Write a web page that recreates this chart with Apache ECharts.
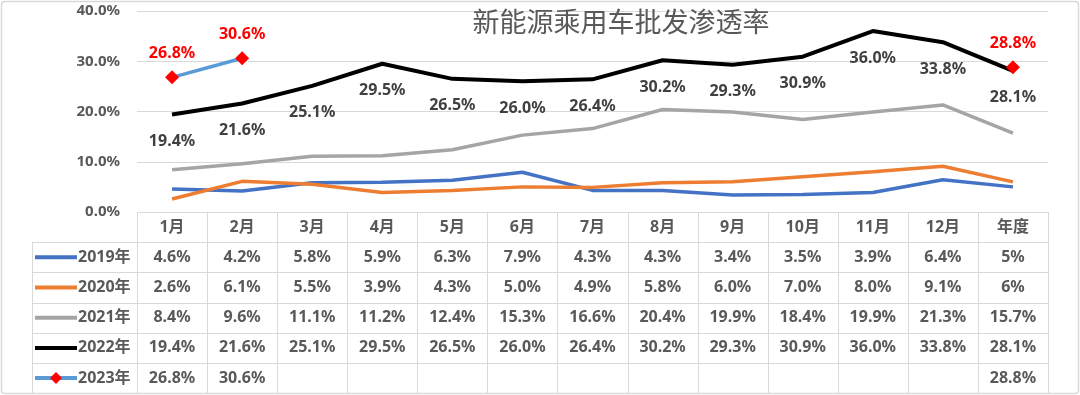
<!DOCTYPE html>
<html><head><meta charset="utf-8">
<script src="https://cdn.jsdelivr.net/npm/echarts@6/dist/echarts.min.js"></script>
<style>html,body{margin:0;padding:0;background:#fff}#c{width:1080px;height:395px}</style>
</head><body><div id="c"></div>
<script>
const titleText = '新能源乘用车批发渗透率';
const categories = ['1月','2月','3月','4月','5月','6月','7月','8月','9月','10月','11月','12月','年度'];
const seriesNames = ['2019年','2020年','2021年','2022年','2023年'];
const s2019 = [4.6,4.2,5.8,5.9,6.3,7.9,4.3,4.3,3.4,3.5,3.9,6.4,5];
const s2020 = [2.6,6.1,5.5,3.9,4.3,5.0,4.9,5.8,6.0,7.0,8.0,9.1,6];
const s2021 = [8.4,9.6,11.1,11.2,12.4,15.3,16.6,20.4,19.9,18.4,19.9,21.3,15.7];
const s2022 = [19.4,21.6,25.1,29.5,26.5,26.0,26.4,30.2,29.3,30.9,36.0,33.8,28.1];
const s2023 = [26.8,30.6,null,null,null,null,null,null,null,null,null,null,28.8];
const yMin = 0, yMax = 40, yStep = 10;

const FONT = '"Noto Sans", "Noto Sans CJK SC", sans-serif';
const TXT = '#595959';
const colors = ['#4472C4','#ED7D31','#A5A5A5','#000000','#5B9BD5'];
const allData = [s2019,s2020,s2021,s2022,s2023];

const chart = echarts.init(document.getElementById('c'));
const fmt = (v, i) => (v == null ? '' : (i === categories.length - 1 && Number.isInteger(v)) ? v + '%' : v.toFixed(1) + '%');

const series = allData.map((d, k) => {
  const s = {
    name: seriesNames[k], type: 'line', data: d,
    symbol: 'none', lineStyle: {color: colors[k], width: k === 3 ? 4 : 3.5},
    itemStyle: {color: colors[k]}, z: 2 + k, animation: false
  };
  if (k === 3) {
    s.symbol = 'circle'; s.symbolSize = 0.01; s.showSymbol = true;
    s.label = {show: true, position: 'bottom', distance: 19, color: '#404040',
      fontFamily: FONT, fontWeight: 'bold', fontSize: 16, formatter: p => fmt(p.value, p.dataIndex)};
  }
  if (k === 4) {
    s.symbol = 'diamond'; s.symbolSize = 14; s.showSymbol = true;
    s.itemStyle = {color: '#FF0000'};
    s.label = {show: true, position: 'top', distance: 9, color: '#FF0000',
      fontFamily: FONT, fontWeight: 'bold', fontSize: 16, formatter: p => fmt(p.value, p.dataIndex)};
  }
  return s;
});

chart.setOption({
  animation: false,
  grid: {left: 137, right: 32, top: 11, bottom: 183},
  xAxis: {type: 'category', data: categories, boundaryGap: true,
    axisLine: {show: false}, axisTick: {show: false}, axisLabel: {show: false}},
  yAxis: {type: 'value', min: yMin, max: yMax, interval: yStep,
    axisLine: {show: false}, axisTick: {show: false},
    splitLine: {lineStyle: {color: '#D9D9D9', width: 1}},
    axisLabel: {margin: 17, color: TXT, fontFamily: FONT, fontWeight: 'bold', fontSize: 15,
      formatter: v => v.toFixed(1) + '%'}},
  series: series
});

const gLeft = 137, gRight = 1080 - 32, tableTop = 212, rowH = 30.2, legendLeft = 32;
const nCol = categories.length;
const colW = (gRight - gLeft) / nCol;
const g = [];
const lineColor = '#D9D9D9';
const crisp = v => Math.round(v) + 0.5;
g.push({type: 'rect', shape: {x: 1.5, y: 1.5, width: 1077, height: 392, r: 3}, style: {fill: null, stroke: '#D9D9D9', lineWidth: 1.5}, silent: true});
g.push({type: 'text', x: 621, y: 24, style: {text: titleText, fill: TXT, font: '27px ' + FONT, textAlign: 'center', textVerticalAlign: 'middle'}});
const nRows = allData.length;
for (let r = 0; r <= nRows + 1; r++) {
  const y = crisp(tableTop + r * rowH);
  const x1 = r <= 0 ? gLeft : legendLeft;
  g.push({type: 'line', shape: {x1: x1, y1: y, x2: gRight, y2: y}, style: {stroke: lineColor, lineWidth: 1}, silent: true});
}
g.push({type: 'line', shape: {x1: crisp(legendLeft), y1: tableTop + rowH, x2: crisp(legendLeft), y2: tableTop + (nRows + 1) * rowH}, style: {stroke: lineColor, lineWidth: 1}});
for (let c = 0; c <= nCol; c++) {
  const x = crisp(gLeft + c * colW);
  g.push({type: 'line', shape: {x1: x, y1: tableTop, x2: x, y2: tableTop + (nRows + 1) * rowH}, style: {stroke: lineColor, lineWidth: 1}});
}
categories.forEach((cat, i) => {
  const cx = chart.convertToPixel({xAxisIndex: 0}, i);
  g.push({type: 'text', x: cx, y: tableTop + rowH / 2, style: {text: cat, fill: TXT, font: 'bold 16px ' + FONT, textAlign: 'center', textVerticalAlign: 'middle'}});
});
allData.forEach((d, k) => {
  const cy = tableTop + rowH * (k + 1) + rowH / 2;
  g.push({type: 'line', shape: {x1: 35, y1: cy, x2: 77, y2: cy}, style: {stroke: colors[k], lineWidth: 4}});
  if (k === 4) {
    g.push({type: 'polygon', shape: {points: [[56, cy - 6], [62, cy], [56, cy + 6], [50, cy]]}, style: {fill: '#FF0000'}});
  }
  g.push({type: 'text', x: 78, y: cy, style: {text: seriesNames[k], fill: TXT, font: 'bold 16px ' + FONT, textAlign: 'left', textVerticalAlign: 'middle'}});
  d.forEach((v, i) => {
    if (v == null) return;
    const cx = chart.convertToPixel({xAxisIndex: 0}, i);
    g.push({type: 'text', x: cx, y: cy, style: {text: fmt(v, i), fill: TXT, font: 'bold 16px ' + FONT, textAlign: 'center', textVerticalAlign: 'middle'}});
  });
});
chart.setOption({graphic: g});
</script></body></html>
